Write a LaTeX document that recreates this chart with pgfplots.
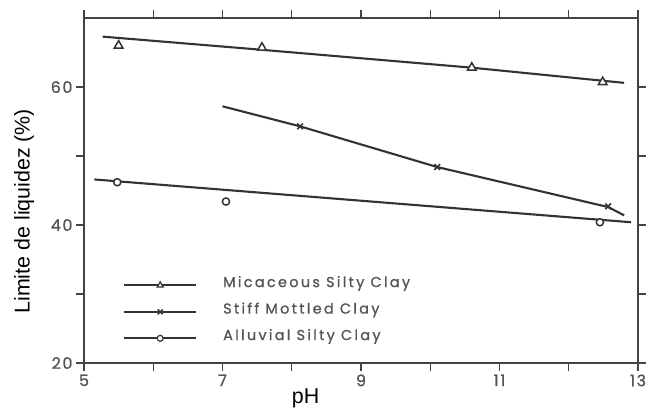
\documentclass[border=0pt]{standalone}
\usepackage{pgfplots}
\pgfplotsset{compat=1.18}
\usepackage{fontspec}
\setmainfont{Liberation Sans}
\newfontfamily\scanfont[LetterSpace=10, FakeBold=1]{Poppins}
\newfontfamily\legfont[LetterSpace=16, FakeBold=1]{Poppins}
\definecolor{axcol}{HTML}{444444}
\definecolor{sercol}{HTML}{333333}
\definecolor{tickcol}{HTML}{555555}
\begin{document}
\begin{tikzpicture}
\begin{axis}[
  name=ax,
  scale only axis, width=554bp, height=345bp,
  xmin=5, xmax=13, ymin=20, ymax=70,
  xtick={5,7,9,11,13}, minor xtick={6,8,10,12},
  ytick={20,40,60}, minor ytick={30,50},
  tick align=outside, tick pos=both,
  xticklabel pos=lower, yticklabel pos=left,
  major tick length=8bp, minor tick length=8bp,
  axis line style={draw=axcol, line width=1.8bp},
  every tick/.style={draw=axcol, line width=1.3bp},
  /pgf/number format/assume math mode=true,
  ticklabel style={font=\scanfont\fontsize{16}{16}\selectfont, text=tickcol},
  xlabel={pH}, ylabel={Limite de liquidez (\%)},
  label style={font=\fontsize{21.5}{21.5}\selectfont},
  xlabel style={at={(axis description cs:0.4,-0.116)}, anchor=base},
  ylabel style={at={(axis description cs:-0.108,0.44)}, anchor=center},
  legend style={draw=none, fill=none, at={(axis description cs:0.065,0.05)}, anchor=south west,
    font=\legfont\fontsize{14.5}{14.5}\selectfont, text=tickcol, row sep=10bp,
    /tikz/every odd column/.append style={column sep=24bp}},
  legend cell align=left,
  legend image code/.code={\draw[line width=2bp, mark repeat=2,mark phase=2] plot coordinates {(0bp,-3bp)(36bp,-3bp)(72bp,-3bp)};},
  clip=false,
]
% lines
\addplot[sercol, line width=2.1bp, forget plot] coordinates {(5.27,67.3) (7.44,65.5) (10.6,62.8) (12.8,60.6)};
\addplot[sercol, line width=2.1bp, forget plot] coordinates {(7.0,57.2) (8.12,54.3) (10.1,48.4) (12.57,42.6) (12.8,41.4)};
\addplot[sercol, line width=2.1bp, forget plot] coordinates {(5.15,46.6) (12.9,40.4)};
% markers
\addplot[only marks, mark=triangle*, mark size=5bp, draw=sercol, fill=white, line width=1.5bp, forget plot] coordinates {(5.5,66.0) (7.57,65.7) (10.6,62.8) (12.49,60.7)};
\addplot[only marks, mark=x, mark size=4bp, draw=sercol, line width=1.6bp, forget plot] coordinates {(8.12,54.3) (10.1,48.4) (12.57,42.7)};
\addplot[only marks, mark=*, mark size=3.6bp, draw=sercol, fill=white, line width=1.5bp, forget plot] coordinates {(5.48,46.2) (7.05,43.4) (12.45,40.4)};
% legend
\addlegendimage{sercol, mark=triangle*, mark options={fill=white, line width=1.2bp, mark size=3.5bp}}
\addlegendentry{Micaceous Silty Clay}
\addlegendimage{sercol, mark=x, mark options={line width=1.4bp, mark size=3.5bp}}
\addlegendentry{Stiff Mottled Clay}
\addlegendimage{sercol, mark=*, mark options={fill=white, line width=1.2bp, mark size=3bp}}
\addlegendentry{Alluvial Silty Clay}
\end{axis}
\pgfresetboundingbox
\path ([xshift=-84bp,yshift=-45bp]ax.south west) rectangle ([xshift=10bp,yshift=18bp]ax.north east);
\end{tikzpicture}
\end{document}
